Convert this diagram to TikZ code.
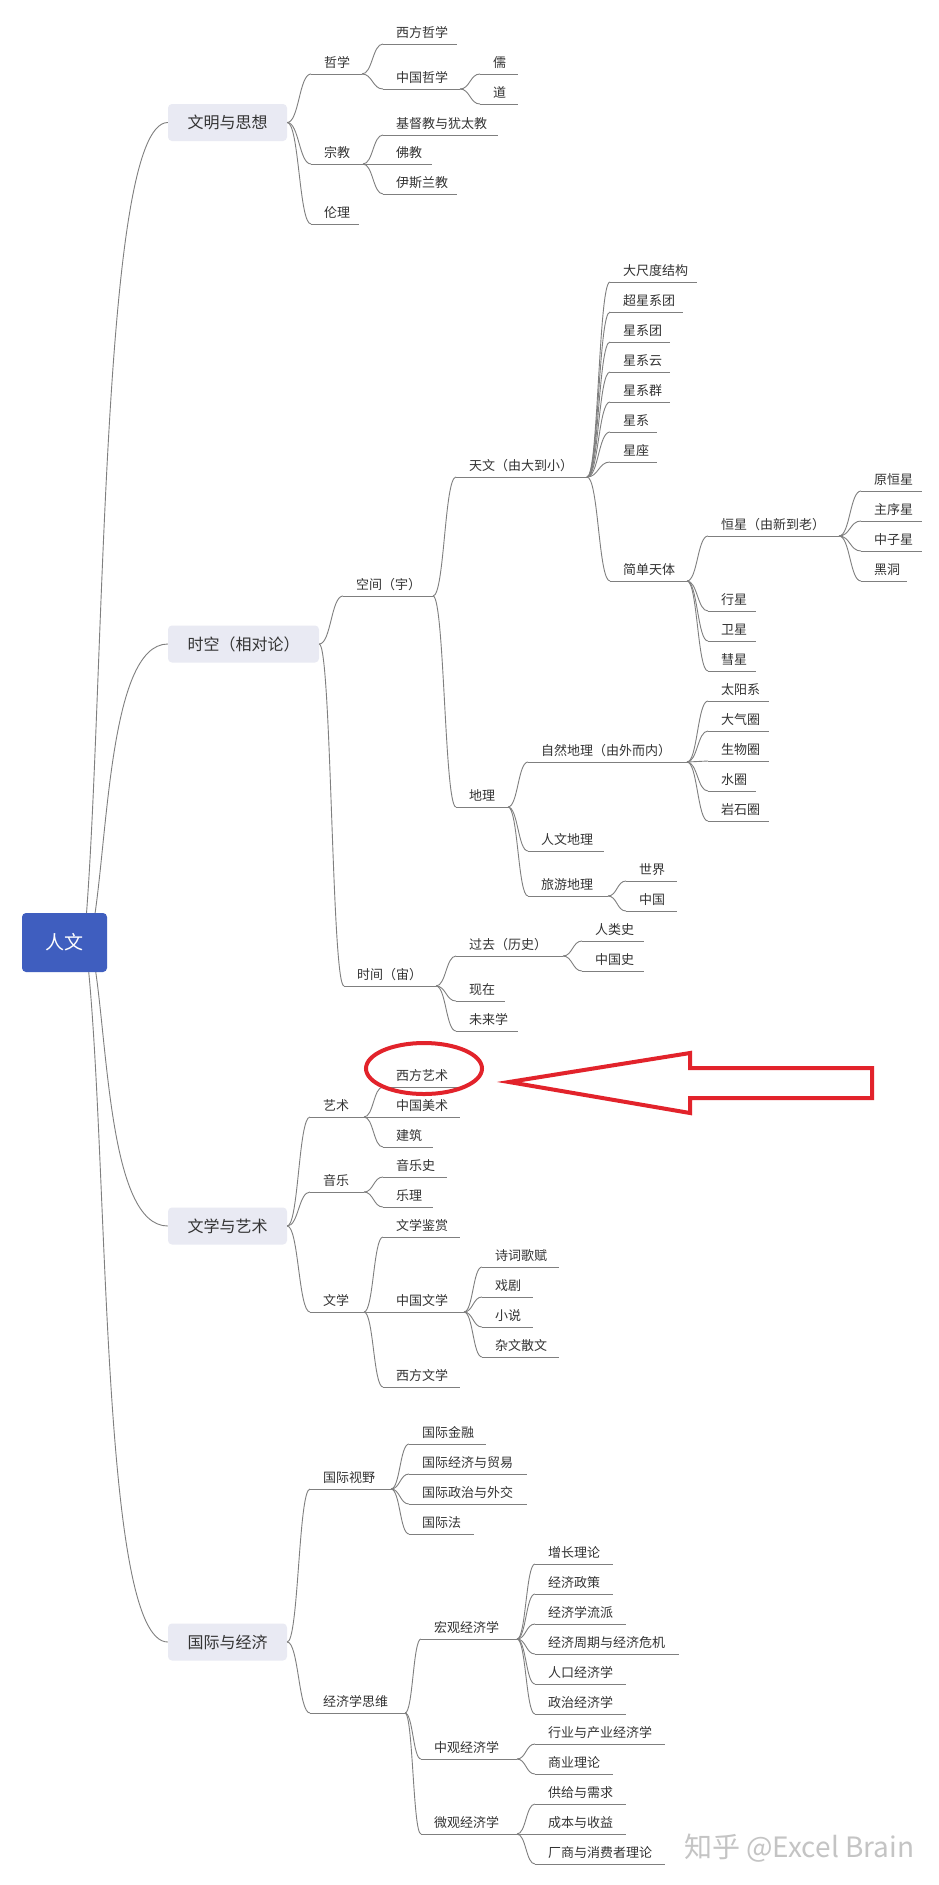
\documentclass[tikz,border=0pt]{standalone}
\usepackage{fontspec}
\setmainfont{Noto Sans CJK SC}
\usetikzlibrary{backgrounds,calc}
\definecolor{rootblue}{HTML}{3F5EBF}
\definecolor{boxfill}{HTML}{E9EAF3}
\definecolor{linegray}{HTML}{7F7F7F}
\definecolor{textgray}{HTML}{333333}
\definecolor{markred}{HTML}{E2232B}
\definecolor{wmgray}{HTML}{C4C4C4}
\newcommand\mmleaf[5]{%
  \coordinate (#1-l) at (#2,#4);
  \coordinate (#1-r) at (#3,#4);
  \node[leaftext] (#1) at ({#2+13},{#4-7}) {#5};
  \draw[branch] (#1-l) -- (#1-r);
}
\newcommand\mmconn[2]{%
  \draw[branch] let \p1=(#1), \p2=(#2), \n1={0.5*(\x2-\x1)} in
    (#1) .. controls +(\n1,0) and +(-\n1,0) .. (#2);
}
\begin{document}
\begin{tikzpicture}[x=1pt,y=-1pt,
  branch/.style={draw=linegray,line width=0.9pt},
  leaftext/.style={anchor=base west,inner sep=0pt,text=textgray,font=\fontsize{13}{13}\selectfont},
  l1box/.style={fill=boxfill,rounded corners=4pt,minimum height=37pt,inner xsep=19.5pt,inner ysep=0pt,text=textgray,font=\fontsize{16}{16}\selectfont},
  rootbox/.style={fill=rootblue,rounded corners=4pt,minimum width=85pt,minimum height=59pt,inner sep=0pt,text=white,font=\fontsize{19}{19}\selectfont},
  redmark/.style={draw=markred,line width=4pt}]
\useasboundingbox (0,0) rectangle (939,1885);

% root and level-1 boxes
\node[rootbox] (root) at (64.5,942.5) {人文};
\node[l1box] (wm) at (227.5,122.5) {文明与思想};
\node[l1box] (sk) at (243.5,644) {时空（相对论）};
\node[l1box] (wy) at (227.5,1226) {文学与艺术};
\node[l1box] (gj) at (227.5,1642) {国际与经济};

% ---- 文明与思想
\mmleaf{zx}{311}{362}{74}{哲学}
\mmleaf{xfzx}{383}{457}{44}{西方哲学}
\mmleaf{zgzx}{383}{460}{89}{中国哲学}
\mmleaf{ru}{480}{518}{74}{儒}
\mmleaf{dao}{480}{518}{104}{道}
\mmleaf{zj}{311}{363}{164}{宗教}
\mmleaf{jdj}{383}{498}{135}{基督教与犹太教}
\mmleaf{fj}{383}{432}{164}{佛教}
\mmleaf{ysl}{383}{457}{194}{伊斯兰教}
\mmleaf{ll}{311}{359}{224}{伦理}
\mmconn{wm.east}{zx-l}
\mmconn{wm.east}{zj-l}
\mmconn{wm.east}{ll-l}
\mmconn{zx-r}{xfzx-l}
\mmconn{zx-r}{zgzx-l}
\mmconn{zgzx-r}{ru-l}
\mmconn{zgzx-r}{dao-l}
\mmconn{zj-r}{jdj-l}
\mmconn{zj-r}{fj-l}
\mmconn{zj-r}{ysl-l}

% ---- 时空
\mmleaf{kj}{343}{433}{596}{空间（宇）}
\mmleaf{tw}{456}{587}{477}{天文（由大到小）}
\mmleaf{dcd}{610}{697}{282}{大尺度结构}
\mmleaf{cxxt}{610}{683}{312}{超星系团}
\mmleaf{xxt}{610}{670}{342}{星系团}
\mmleaf{xxy}{610}{670}{372}{星系云}
\mmleaf{xxq}{610}{670}{402}{星系群}
\mmleaf{xx}{610}{657}{432}{星系}
\mmleaf{xz}{610}{657}{462}{星座}
\mmleaf{jdtt}{610}{687}{581}{简单天体}
\mmleaf{hx}{708}{839}{536}{恒星（由新到老）}
\mmleaf{yhx}{861}{922}{491}{原恒星}
\mmleaf{zxx}{861}{922}{521}{主序星}
\mmleaf{zzx}{861}{922}{551}{中子星}
\mmleaf{hd}{861}{907}{581}{黑洞}
\mmleaf{xingx}{708}{756}{611}{行星}
\mmleaf{wx}{708}{756}{641}{卫星}
\mmleaf{huix}{708}{756}{671}{彗星}
\mmleaf{dl}{456}{508}{807}{地理}
\mmleaf{zrdl}{528}{687}{762}{自然地理（由外而内）}
\mmleaf{tyx}{708}{769}{701}{太阳系}
\mmleaf{dqq}{708}{769}{731}{大气圈}
\mmleaf{swq}{708}{769}{761}{生物圈}
\mmleaf{sq}{708}{756}{791}{水圈}
\mmleaf{ysq}{708}{769}{821}{岩石圈}
\mmleaf{rwdl}{528}{604}{851}{人文地理}
\mmleaf{lydl}{528}{608}{896}{旅游地理}
\mmleaf{sj}{626}{677}{881}{世界}
\mmleaf{zg}{626}{677}{911}{中国}
\mmleaf{shj}{344}{436}{986}{时间（宙）}
\mmleaf{gq}{456}{563}{956}{过去（历史）}
\mmleaf{rls}{582}{644}{941}{人类史}
\mmleaf{zgs}{582}{644}{971}{中国史}
\mmleaf{xzai}{456}{505}{1001}{现在}
\mmleaf{wlx}{456}{518}{1031}{未来学}
\mmconn{sk.east}{kj-l}
\mmconn{sk.east}{shj-l}
\mmconn{kj-r}{tw-l}
\mmconn{kj-r}{dl-l}
\mmconn{tw-r}{dcd-l}
\mmconn{tw-r}{cxxt-l}
\mmconn{tw-r}{xxt-l}
\mmconn{tw-r}{xxy-l}
\mmconn{tw-r}{xxq-l}
\mmconn{tw-r}{xx-l}
\mmconn{tw-r}{xz-l}
\mmconn{tw-r}{jdtt-l}
\mmconn{jdtt-r}{hx-l}
\mmconn{jdtt-r}{xingx-l}
\mmconn{jdtt-r}{wx-l}
\mmconn{jdtt-r}{huix-l}
\mmconn{hx-r}{yhx-l}
\mmconn{hx-r}{zxx-l}
\mmconn{hx-r}{zzx-l}
\mmconn{hx-r}{hd-l}
\mmconn{dl-r}{zrdl-l}
\mmconn{dl-r}{rwdl-l}
\mmconn{dl-r}{lydl-l}
\mmconn{zrdl-r}{tyx-l}
\mmconn{zrdl-r}{dqq-l}
\mmconn{zrdl-r}{swq-l}
\mmconn{zrdl-r}{sq-l}
\mmconn{zrdl-r}{ysq-l}
\mmconn{lydl-r}{sj-l}
\mmconn{lydl-r}{zg-l}
\mmconn{shj-r}{gq-l}
\mmconn{shj-r}{xzai-l}
\mmconn{shj-r}{wlx-l}
\mmconn{gq-r}{rls-l}
\mmconn{gq-r}{zgs-l}

% ---- 文学与艺术
\mmleaf{ys}{310}{364}{1117}{艺术}
\mmleaf{xfys}{383}{460}{1087}{西方艺术}
\mmleaf{zgms}{383}{460}{1117}{中国美术}
\mmleaf{jz}{383}{433}{1147}{建筑}
\mmleaf{yy}{310}{364}{1192}{音乐}
\mmleaf{yys}{383}{447}{1177}{音乐史}
\mmleaf{yl}{383}{433}{1207}{乐理}
\mmleaf{wx2}{310}{364}{1312}{文学}
\mmleaf{wxjs}{383}{460}{1237}{文学鉴赏}
\mmleaf{zgwx}{383}{464}{1312}{中国文学}
\mmleaf{scgf}{482}{559}{1267}{诗词歌赋}
\mmleaf{xj}{482}{533}{1297}{戏剧}
\mmleaf{xs}{482}{533}{1327}{小说}
\mmleaf{zwsw}{482}{559}{1357}{杂文散文}
\mmleaf{xfwx}{383}{460}{1387}{西方文学}
\mmconn{wy.east}{ys-l}
\mmconn{wy.east}{yy-l}
\mmconn{wy.east}{wx2-l}
\mmconn{ys-r}{xfys-l}
\mmconn{ys-r}{zgms-l}
\mmconn{ys-r}{jz-l}
\mmconn{yy-r}{yys-l}
\mmconn{yy-r}{yl-l}
\mmconn{wx2-r}{wxjs-l}
\mmconn{wx2-r}{zgwx-l}
\mmconn{wx2-r}{xfwx-l}
\mmconn{zgwx-r}{scgf-l}
\mmconn{zgwx-r}{xj-l}
\mmconn{zgwx-r}{xs-l}
\mmconn{zgwx-r}{zwsw-l}

% ---- 国际与经济
\mmleaf{gjsy}{310}{391}{1489}{国际视野}
\mmleaf{gjjr}{409}{486}{1444}{国际金融}
\mmleaf{gjjj}{409}{527}{1474}{国际经济与贸易}
\mmleaf{gjzz}{409}{527}{1504}{国际政治与外交}
\mmleaf{gjf}{409}{474}{1534}{国际法}
\mmleaf{jjsw}{310}{405}{1713}{经济学思维}
\mmleaf{hg}{421}{517}{1639}{宏观经济学}
\mmleaf{zzll}{535}{613}{1564}{增长理论}
\mmleaf{jjzc}{535}{613}{1594}{经济政策}
\mmleaf{jjlp}{535}{626}{1624}{经济学流派}
\mmleaf{jjzq}{535}{679}{1654}{经济周期与经济危机}
\mmleaf{rkjj}{535}{626}{1684}{人口经济学}
\mmleaf{zzjj}{535}{626}{1714}{政治经济学}
\mmleaf{zgj}{421}{517}{1759}{中观经济学}
\mmleaf{hycy}{535}{665}{1744}{行业与产业经济学}
\mmleaf{syll}{535}{613}{1774}{商业理论}
\mmleaf{wg}{421}{517}{1834}{微观经济学}
\mmleaf{gjxq}{535}{626}{1804}{供给与需求}
\mmleaf{cbsy}{535}{626}{1834}{成本与收益}
\mmleaf{csxf}{535}{665}{1864}{厂商与消费者理论}
\mmconn{gj.east}{gjsy-l}
\mmconn{gj.east}{jjsw-l}
\mmconn{gjsy-r}{gjjr-l}
\mmconn{gjsy-r}{gjjj-l}
\mmconn{gjsy-r}{gjzz-l}
\mmconn{gjsy-r}{gjf-l}
\mmconn{jjsw-r}{hg-l}
\mmconn{jjsw-r}{zgj-l}
\mmconn{jjsw-r}{wg-l}
\mmconn{hg-r}{zzll-l}
\mmconn{hg-r}{jjzc-l}
\mmconn{hg-r}{jjlp-l}
\mmconn{hg-r}{jjzq-l}
\mmconn{hg-r}{rkjj-l}
\mmconn{hg-r}{zzjj-l}
\mmconn{zgj-r}{hycy-l}
\mmconn{zgj-r}{syll-l}
\mmconn{wg-r}{gjxq-l}
\mmconn{wg-r}{cbsy-l}
\mmconn{wg-r}{csxf-l}

% ---- red annotation
\draw[redmark] (424,1068.5) ellipse [x radius=58pt, y radius=25.5pt];
\draw[redmark,line join=miter] (509,1082) -- (690,1053) -- (690,1068) -- (872,1068)
   -- (872,1098) -- (690,1098) -- (690,1113) -- cycle;

% ---- watermark
\node[anchor=base west,inner sep=0pt,text=wmgray,font=\fontsize{28}{28}\selectfont] (wmk) at (684,1857) {知乎 @Excel Brain};

% ---- root connectors and white background
\begin{scope}[on background layer]
\fill[white] (0,0) rectangle (939,1885);
\coordinate (rU1) at (85,932);
\coordinate (rU2) at (92,932);
\coordinate (rD1) at (93,955);
\coordinate (rD2) at (87,955);
\draw[branch] (rU1) .. controls +(20,-232) and +(-68,0) .. (wm.west);
\draw[branch] (rU2) .. controls +(16,-84) and +(-60,0) .. (sk.west);
\draw[branch] (rD1) .. controls +(15,80) and +(-60,0) .. (wy.west);
\draw[branch] (rD2) .. controls +(22,200) and +(-68,0) .. (gj.west);
\end{scope}
\end{tikzpicture}
\end{document}
